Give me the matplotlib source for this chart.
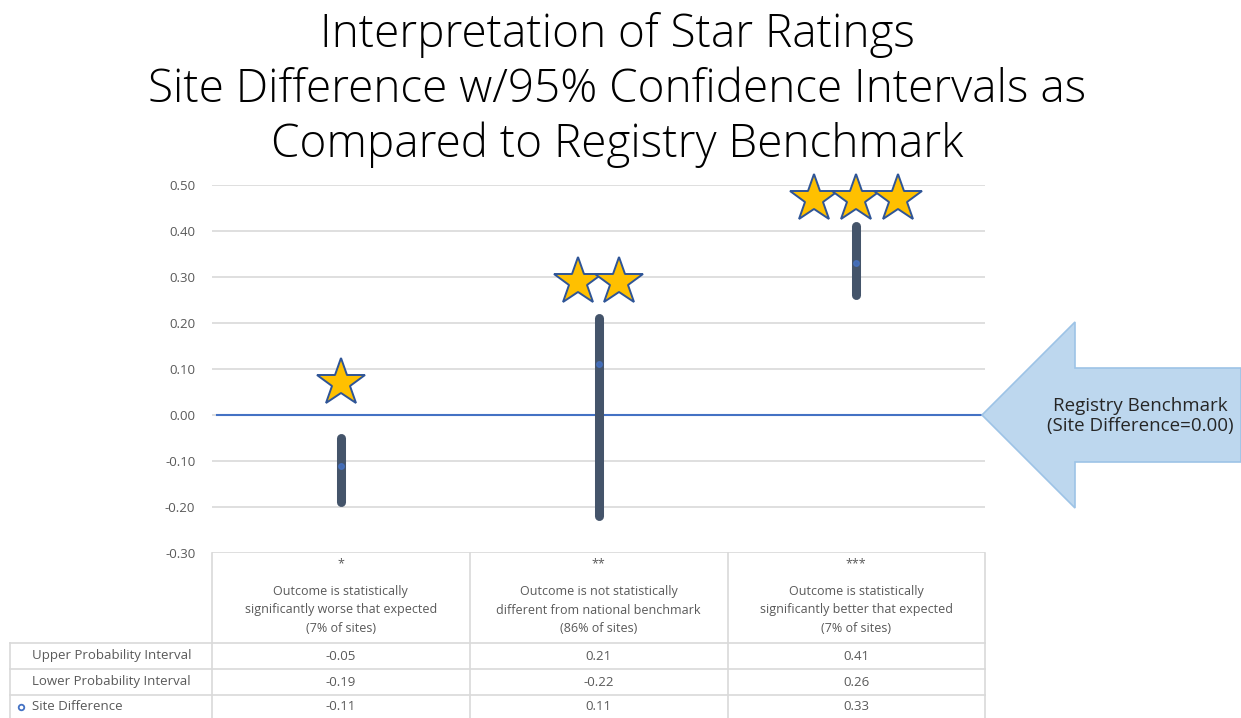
import numpy as np
import matplotlib

matplotlib.use("Agg")
import matplotlib.pyplot as plt
import matplotlib.transforms as mtransforms
from matplotlib.patches import Polygon

# --- data ---
stars = ["*", "**", "***"]
descriptions = [
    "Outcome is statistically\nsignificantly worse that expected\n(7% of sites)",
    "Outcome is not statistically\ndifferent from national benchmark\n(86% of sites)",
    "Outcome is statistically\nsignificantly better that expected\n(7% of sites)",
]
upper = [-0.05, 0.21, 0.41]
lower = [-0.19, -0.22, 0.26]
site_diff = [-0.11, 0.11, 0.33]
star_count = [1, 2, 3]
star_y = [0.07, 0.29, 0.47]
benchmark = 0.00
y_ticks = [0.50, 0.40, 0.30, 0.20, 0.10, 0.00, -0.10, -0.20, -0.30]

W, H = 1241, 718
GRID = "#D9D9D9"
TXT = "#595959"
FONT = "Open Sans"

fig = plt.figure(figsize=(W / 100, H / 100), dpi=100)
# plot area: x 212..985 px, y 185..553 px
ax = fig.add_axes([212 / W, 1 - 553 / H, (985 - 212) / W, (553 - 185) / H])
ax.set_xlim(-0.5, 2.5)
ax.set_ylim(-0.30, 0.50)
ax.set_yticks(y_ticks)
ax.set_yticklabels([f"{v:.2f}" for v in y_ticks], color=TXT, fontsize=9.5, family=FONT)
ax.tick_params(axis="y", length=0, pad=12)
ax.set_xticks([])
for s in ax.spines.values():
    s.set_visible(False)
ax.grid(axis="y", color=GRID, lw=1.2)
ax.set_axisbelow(True)

x = np.arange(len(stars))
ax.axhline(benchmark, xmin=0.007, xmax=1, color="#4472C4", lw=1.5, zorder=2)
ax.vlines(x, lower, upper, color="#44546A", lw=6.5, capstyle="round", zorder=3)
ax.plot(x, site_diff, "o", ms=4, mfc="#4472C4", mec="#4472C4", alpha=0.8, zorder=4)

# gold stars above each interval
for xi, n, sy in zip(x, star_count, star_y):
    offs = (np.arange(n) - (n - 1) / 2) * 0.163
    ax.plot(xi + offs, [sy] * n, "*", ms=36, mfc="#FFC000", mec="#2F5597",
            mew=1.4, ls="none", zorder=5, clip_on=False)

# --- data table under the chart ---
tb = mtransforms.blended_transform_factory(ax.transData, fig.transFigure)


def fy(py):
    return 1 - py / H


def hline(py, x0, x1):
    fig.add_artist(plt.Line2D([x0 / W, x1 / W], [fy(py), fy(py)], color=GRID, lw=1.2))


def vline(px, y0, y1):
    fig.add_artist(plt.Line2D([px / W, px / W], [fy(y0), fy(y1)], color=GRID, lw=1.2))


for px in [212, 470, 728, 985]:
    vline(px, 553, 718)
vline(10, 643, 718)
hline(643, 10, 985)
hline(669, 10, 985)
hline(695, 10, 985)

for xi, st, d in zip(x, stars, descriptions):
    ax.text(xi, fy(564), st, transform=tb, ha="center", va="center", color=TXT,
            fontsize=9, family=FONT)
    ax.text(xi, fy(610), d, transform=tb, ha="center", va="center", color=TXT,
            fontsize=9, family=FONT, linespacing=1.6)

rows = [("Upper Probability Interval", upper, 656),
        ("Lower Probability Interval", lower, 682),
        ("Site Difference", site_diff, 707)]
for label, vals, py in rows:
    fig.text(32 / W, fy(py), label, ha="left", va="center", color=TXT, fontsize=9.5, family=FONT)
    for xi, v in zip(x, vals):
        ax.text(xi, fy(py), f"{v:.2f}", transform=tb, ha="center", va="center",
                color=TXT, fontsize=9.5, family=FONT)
fig.add_artist(plt.Line2D([21 / W], [fy(707)], marker="o", ms=4, mfc="white",
                          mec="#4472C4", mew=1.3))

# --- benchmark arrow ---
arrow = [(982, 415), (1075, 322), (1075, 368), (1241, 368),
         (1241, 462), (1075, 462), (1075, 508)]
fig.add_artist(Polygon([(px / W, fy(py)) for px, py in arrow], closed=True,
                       facecolor="#BDD7EE", edgecolor="#9DC3E6", lw=1.2))
fig.text(1140 / W, fy(416), "Registry Benchmark\n(Site Difference=0.00)", ha="center",
         va="center", fontsize=13.5, color="#262626", family=FONT, linespacing=1.15)

# --- title ---
fig.text(617 / W, fy(90), "Interpretation of Star Ratings\nSite Difference w/95% Confidence Intervals as\nCompared to Registry Benchmark",
         ha="center", va="center", fontsize=33, family=FONT, fontweight="light",
         color="#000000", linespacing=1.24)

fig.savefig("out.png", dpi=100)
